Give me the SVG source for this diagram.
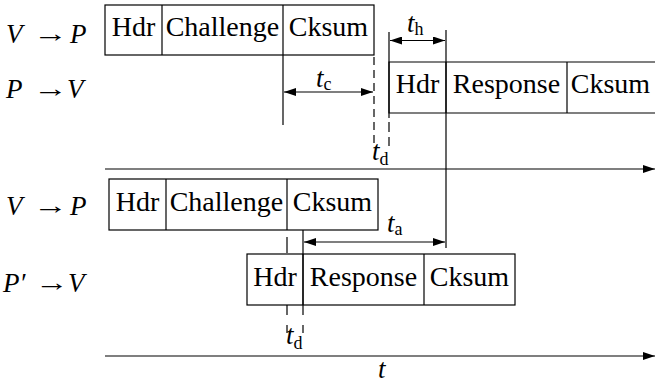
<svg xmlns="http://www.w3.org/2000/svg" width="655" height="384" viewBox="0 0 655 384">
<defs>
<style>
.box{fill:none;stroke:#000;stroke-width:1.2}
.ln{stroke:#000;stroke-width:1.2;fill:none}
</style>
<marker id="ah" viewBox="0 0 12 8" refX="12" refY="4" markerWidth="12" markerHeight="8" markerUnits="userSpaceOnUse" orient="auto-start-reverse">
<path d="M0,0 L12,4 L0,8 Z" fill="#000"/>
</marker>
</defs>

<g id="labels" fill="#000">
<text font-family="Liberation Serif" font-size="27" font-style="italic" x="6" y="43">V</text>
<text font-family="Liberation Serif" font-size="25" transform="translate(33,42) scale(1.4,1)" x="0" y="0">→</text>
<text font-family="Liberation Serif" font-size="27" font-style="italic" x="70" y="43">P</text>
<text font-family="Liberation Serif" font-size="27" font-style="italic" x="6" y="98">P</text>
<text font-family="Liberation Serif" font-size="25" transform="translate(33,97) scale(1.4,1)" x="0" y="0">→</text>
<text font-family="Liberation Serif" font-size="27" font-style="italic" x="67" y="98">V</text>
<text font-family="Liberation Serif" font-size="27" font-style="italic" x="6" y="215">V</text>
<text font-family="Liberation Serif" font-size="25" transform="translate(33,214) scale(1.4,1)" x="0" y="0">→</text>
<text font-family="Liberation Serif" font-size="27" font-style="italic" x="70" y="215">P</text>
<text font-family="Liberation Serif" font-size="27" font-style="italic" x="3" y="292">P′</text>
<text font-family="Liberation Serif" font-size="25" transform="translate(35,291) scale(1.35,1)" x="0" y="0">→</text>
<text font-family="Liberation Serif" font-size="27" font-style="italic" x="68" y="292">V</text>
</g>

<g id="challenge1">
<rect class="box" x="105" y="5" width="269" height="50"/>
<line class="ln" x1="162" y1="5" x2="162" y2="55"/>
<line class="ln" x1="283" y1="5" x2="283" y2="55"/>
<text font-family="Liberation Serif" font-size="28" x="111.7" y="36">Hdr</text>
<text font-family="Liberation Serif" font-size="28" x="165.7" y="36">Challenge</text>
<text font-family="Liberation Serif" font-size="28" x="288.8" y="36">Cksum</text>
</g>

<g id="response1">
<path class="box" d="M655,62 H389 V113 H655"/>
<line class="ln" x1="446" y1="62" x2="446" y2="113"/>
<line class="ln" x1="567" y1="62" x2="567" y2="113"/>
<text font-family="Liberation Serif" font-size="28" x="395.7" y="93">Hdr</text>
<text font-family="Liberation Serif" font-size="28" x="452.8" y="93">Response</text>
<text font-family="Liberation Serif" font-size="28" x="570.8" y="93">Cksum</text>
</g>

<g id="challenge2">
<rect class="box" x="109" y="179" width="269" height="51"/>
<line class="ln" x1="166" y1="179" x2="166" y2="230"/>
<line class="ln" x1="287" y1="179" x2="287" y2="230"/>
<text font-family="Liberation Serif" font-size="28" x="115.7" y="211">Hdr</text>
<text font-family="Liberation Serif" font-size="28" x="169.7" y="211">Challenge</text>
<text font-family="Liberation Serif" font-size="28" x="292.8" y="211">Cksum</text>
</g>

<g id="response2">
<rect class="box" x="247" y="254" width="268" height="51"/>
<line class="ln" x1="303" y1="254" x2="303" y2="305"/>
<line class="ln" x1="424" y1="254" x2="424" y2="305"/>
<text font-family="Liberation Serif" font-size="28" x="253.2" y="286">Hdr</text>
<text font-family="Liberation Serif" font-size="28" x="309.8" y="286">Response</text>
<text font-family="Liberation Serif" font-size="28" x="429.8" y="286">Cksum</text>
</g>

<g id="connectors">
<line class="ln" x1="105" y1="169" x2="655" y2="169" marker-end="url(#ah)"/>
<line class="ln" x1="105" y1="356" x2="655" y2="356" marker-end="url(#ah)"/>
<line class="ln" x1="283" y1="55" x2="283" y2="125"/>
<line class="ln" x1="374" y1="57" x2="374" y2="146" stroke-dasharray="8,5"/>
<line class="ln" x1="389" y1="32" x2="389" y2="118"/>
<line class="ln" x1="389" y1="122" x2="389" y2="146" stroke-dasharray="10,5"/>
<line class="ln" x1="446" y1="30" x2="446" y2="248"/>
<line class="ln" x1="284" y1="92" x2="373" y2="92" marker-start="url(#ah)" marker-end="url(#ah)"/>
<line class="ln" x1="390" y1="40.5" x2="445" y2="40.5" marker-start="url(#ah)" marker-end="url(#ah)"/>
<line class="ln" x1="287" y1="237" x2="287" y2="253"/>
<line class="ln" x1="287" y1="305" x2="287" y2="333" stroke-dasharray="10,10"/>
<line class="ln" x1="303" y1="230" x2="303" y2="315"/>
<line class="ln" x1="303" y1="325" x2="303" y2="333"/>
<line class="ln" x1="304" y1="242" x2="445" y2="242" marker-start="url(#ah)" marker-end="url(#ah)"/>
</g>

<g id="timelabels" fill="#000">
<text font-family="Liberation Serif" font-size="27" font-style="italic" x="316" y="87">t<tspan font-size="18" font-style="normal" dy="3">c</tspan></text>
<text font-family="Liberation Serif" font-size="27" font-style="italic" x="407" y="32">t<tspan font-size="18" font-style="normal" dy="3">h</tspan></text>
<text font-family="Liberation Serif" font-size="27" font-style="italic" x="372" y="160">t<tspan font-size="18" font-style="normal" dy="5">d</tspan></text>
<text font-family="Liberation Serif" font-size="27" font-style="italic" x="387" y="232">t<tspan font-size="18" font-style="normal" dy="3">a</tspan></text>
<text font-family="Liberation Serif" font-size="27" font-style="italic" x="286" y="344">t<tspan font-size="18" font-style="normal" dy="5">d</tspan></text>
<text font-family="Liberation Serif" font-size="27" font-style="italic" x="378" y="378">t</text>
</g>
</svg>
